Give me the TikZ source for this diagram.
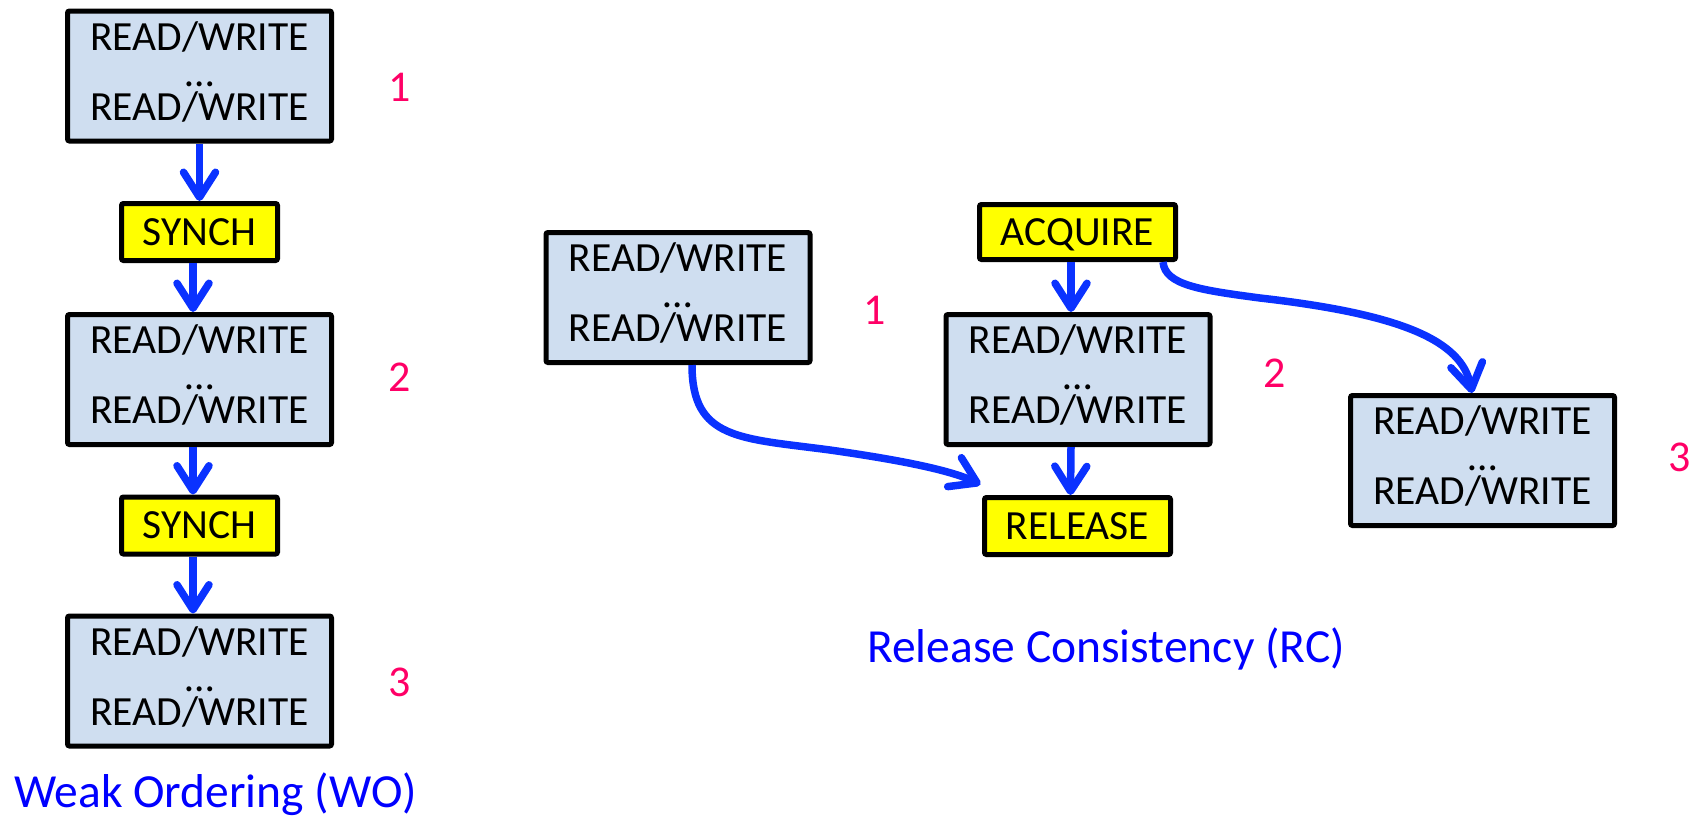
\documentclass[tikz,border=0pt]{standalone}
\usepackage{fontspec}
\setmainfont{Carlito}
\usetikzlibrary{arrows.meta,calc}

\definecolor{rwfill}{RGB}{207,222,240}
\definecolor{syncfill}{RGB}{255,255,0}
\definecolor{flowblue}{RGB}{10,50,255}
\definecolor{stepnum}{RGB}{255,0,102}
\definecolor{captionblue}{RGB}{0,0,255}

\tikzset{
  rw/.style={draw=black, line width=5pt, fill=rwfill, rounded corners=2pt,
    minimum width=264pt, minimum height=130pt, inner sep=0pt},
  syncbox/.style={draw=black, line width=5pt, fill=syncfill, rounded corners=2pt,
    minimum height=57pt, inner sep=0pt, font=\fontsize{41.5}{48}\selectfont,
    text height=26pt, text depth=0pt},
  rwline/.style={font=\fontsize{41.5}{48}\selectfont, anchor=base, inner sep=0pt},
  num/.style={text=stepnum, font=\fontsize{44}{52}\selectfont, inner sep=0pt},
  caption/.style={text=captionblue, font=\fontsize{47.5}{56}\selectfont,
    anchor=base, inner sep=0pt},
  flow/.style={draw=flowblue, line width=7.5pt,
    -{Straight Barb[length=25pt,width=32pt,round]}},
}

% a READ/WRITE block: name, centre x, centre y
\newcommand{\rwbox}[3]{%
  \node[rw] (#1) at (#2,#3) {};
  \node[rwline] (#1-top) at ($(#1.center)+(0,-26)$) {READ/WRITE};
  \node[rwline] (#1-dots) at ($(#1.center)+(0,10)$) {…};
  \node[rwline] (#1-bot) at ($(#1.center)+(0,44)$) {READ/WRITE};
}

\begin{document}
\begin{tikzpicture}[x=1pt,y=-1pt]
\useasboundingbox (0,0) rectangle (1704,815);

% Weak ordering column
\rwbox{L1}{199.5}{76}
\node[syncbox, minimum width=156pt] (S1) at (199.5,232) {SYNCH};
\rwbox{L2}{199.5}{379.5}
\node[syncbox, minimum width=156pt] (S2) at (199.5,525.5) {SYNCH};
\rwbox{L3}{199.5}{681}

\node[num] (n1) at (400,87) {1};
\node[num] (n2) at (400,377) {2};
\node[num] (n3) at (400,682) {3};
\node[caption] (wo) at (215.5,807) {Weak Ordering (WO)};

\draw[flow] (L1.south) -- (S1.north);
\draw[flow] ([xshift=-6.5pt]S1.south) -- ([xshift=-6.5pt]L2.north);
\draw[flow] ([xshift=-6.5pt]L2.south) -- ([xshift=-6.5pt]S2.north);
\draw[flow] ([xshift=-6.5pt]S2.south) -- ([xshift=-6.5pt]L3.north);

% Release consistency
\rwbox{R1}{678}{297.5}
\node[syncbox, minimum width=196pt, minimum height=55pt] (acq) at (1077.5,232) {ACQUIRE};
\rwbox{R2}{1078}{379.5}
\node[syncbox, minimum width=186pt] (rel) at (1077.5,526) {RELEASE};
\rwbox{R3}{1482.5}{460.5}

\node[num] (m1) at (875,310) {1};
\node[num] (m2) at (1275,373) {2};
\node[num] (m3) at (1680,457) {3};
\node[caption] (rc) at (1106,662) {Release Consistency (RC)};

\draw[flow] ([xshift=-6.5pt]acq.south) -- ([xshift=-7pt]R2.north);
\draw[flow] ([xshift=-7pt]R2.south) -- ([xshift=-7pt]rel.north);

\draw[flow] ([xshift=14pt]R1.south) .. controls +(0,75) and (740,438) .. (830,450)
  .. controls (900,460) and (950,470) .. ([xshift=-1.5pt,yshift=10.5pt]rel.north west);
\draw[flow] ([xshift=85.5pt]acq.south) .. controls (1165,285) and (1200,290) .. (1260,298)
  .. controls (1400,314) and (1462,340) .. ([xshift=-10.5pt]R3.north);
\end{tikzpicture}
\end{document}
